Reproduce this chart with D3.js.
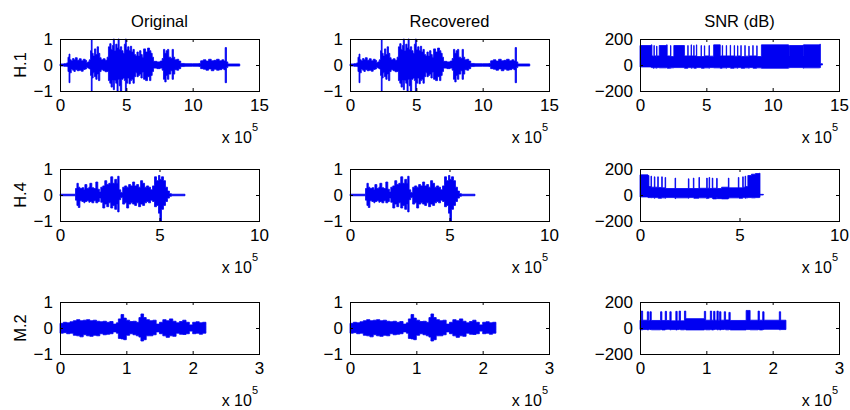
<!DOCTYPE html>
<html><head><meta charset="utf-8">
<script src="https://cdn.jsdelivr.net/npm/d3@7"></script>
<style>
body{margin:0;background:#fff;}
svg{display:block;font-family:"Liberation Sans",Arial,sans-serif;}
</style></head>
<body><svg id="c" width="850" height="410"></svg>
<script>
// ---------- DATA ----------
const colTitles = ["Original", "Recovered", "SNR (dB)"];
const rowLabels = ["H.1", "H.4", "M.2"];
const xMaxByRow = [15, 10, 3];            // x in units of 10^5 samples
const xTicksByRow = [[0, 5, 10, 15], [0, 5, 10], [0, 1, 2, 3]];
const sigTicks = [-1, 0, 1];
const snrTicks = [-200, 0, 200];

// H.1 waveform envelope (x: 10^5 samples)
const h1X  = [0,0.3,0.5,0.6,0.68,0.75,0.85,0.95,1.05,1.15,1.3,1.45,1.6,1.75,1.9,2.0,2.1,2.2,2.3,2.36,2.42,2.5,2.6,2.7,2.8,2.9,3.0,3.1,3.25,3.4,3.55,3.65,3.75,3.85,3.95,4.02,4.1,4.2,4.3,4.38,4.46,4.55,4.65,4.75,4.85,4.93,5.0,5.1,5.2,5.3,5.4,5.5,5.6,5.7,5.8,5.9,6.0,6.1,6.2,6.3,6.45,6.6,6.75,6.85,6.95,7.05,7.3,7.55,7.7,7.8,7.9,8.0,8.1,8.2,8.35,8.45,8.55,8.65,8.8,8.95,9.1,9.4,10.0,10.45,10.6,10.8,11.0,11.2,11.4,11.6,11.8,12.0,12.2,12.35,12.45,12.55,12.65,13.55];
const h1Hi = [.04,.05,.08,.30,.42,.20,.15,.25,.20,.28,.18,.24,.16,.22,.18,.10,.12,.20,.55,.96,.45,.35,.62,.40,.70,.45,.28,.20,.24,.18,.30,.70,.82,.60,.75,1.0,.55,.80,.65,1.0,.60,.70,.55,.45,.80,1.0,.60,.70,.55,.72,.50,.60,.40,.35,.50,.35,.55,.40,.30,.62,.50,.65,.55,.45,.30,.14,.12,.15,.25,.60,.45,.55,.60,.30,.25,.60,.30,.20,.22,.15,.06,.05,.05,.06,.16,.20,.15,.22,.16,.18,.22,.16,.20,.15,.67,.12,.04,.04];
const h1Lo = [-.04,-.05,-.06,-.25,-.68,-.30,-.15,-.20,-.25,-.18,-.22,-.20,-.24,-.17,-.15,-.10,-.12,-.15,-.40,-1.0,-.50,-.30,-.45,-.55,-.35,-.60,-.25,-.18,-.22,-.26,-.25,-.60,-.70,-.85,-.60,-.95,-.60,-.70,-1.0,-.55,-.80,-1.0,-.55,-.50,-.60,-1.0,-.70,-.50,-.72,-.60,-.55,-.70,-.45,-.30,-.45,-.40,-.35,-.50,-.28,-.55,-.60,-.45,-.60,-.40,-.25,-.12,-.14,-.12,-.20,-.55,-.65,-.40,-.55,-.35,-.22,-.55,-.35,-.18,-.20,-.14,-.06,-.05,-.05,-.06,-.14,-.16,-.20,-.15,-.22,-.16,-.20,-.18,-.14,-.18,-.68,-.10,-.04,-.04];

// H.4 waveform envelope
const h4X  = [0,0.7,0.78,0.85,0.92,1.0,1.1,1.2,1.25,1.35,1.45,1.5,1.6,1.7,1.8,1.9,1.98,2.05,2.15,2.25,2.35,2.45,2.55,2.65,2.75,2.85,2.9,2.97,3.05,3.15,3.25,3.35,3.45,3.55,3.65,3.75,3.85,3.95,4.05,4.15,4.25,4.35,4.45,4.55,4.65,4.75,4.85,4.95,5.02,5.1,5.2,5.3,5.4,5.5,5.6,6.28];
const h4Hi = [.03,.03,.25,.45,.30,.25,.28,.20,.40,.25,.30,.45,.28,.25,.50,.22,.12,.30,.35,.55,.40,.45,.70,.45,.60,.45,.72,.20,.10,.30,.35,.30,.40,.35,.50,.35,.40,.30,.55,.45,.30,.35,.30,.20,.35,.70,.55,.75,.60,.70,.55,.30,.15,.05,.03,.03];
const h4Lo = [-.03,-.03,-.20,-.40,-.48,-.22,-.25,-.30,-.25,-.22,-.28,-.25,-.30,-.22,-.30,-.25,-.12,-.28,-.50,-.35,-.45,-.30,-.50,-.40,-.55,-.35,-.65,-.18,-.10,-.35,-.30,-.50,-.35,-.30,-.35,-.40,-.30,-.45,-.35,-.40,-.30,-.25,-.30,-.20,-.25,-.45,-.40,-.70,-1.0,-.55,-.40,-.25,-.12,-.05,-.03,-.03];

// M.2 waveform envelope
const m2X  = [0,0.05,0.1,0.15,0.2,0.25,0.3,0.35,0.4,0.45,0.5,0.55,0.6,0.65,0.7,0.75,0.8,0.85,0.88,0.92,0.96,1.0,1.05,1.1,1.15,1.19,1.22,1.26,1.3,1.35,1.4,1.45,1.5,1.55,1.6,1.65,1.7,1.75,1.8,1.85,1.9,1.95,2.0,2.05,2.1,2.15,2.2];
const m2Hi = [.18,.22,.20,.24,.28,.32,.28,.30,.32,.28,.30,.26,.24,.26,.22,.25,.15,.20,.35,.52,.38,.30,.25,.26,.22,.40,.54,.40,.32,.28,.30,.15,.22,.32,.28,.35,.26,.20,.25,.30,.22,.12,.22,.24,.20,.22,.10];
const m2Lo = [-.20,-.18,-.22,-.20,-.28,-.30,-.34,-.26,-.30,-.32,-.28,-.30,-.22,-.26,-.24,-.22,-.15,-.20,-.40,-.42,-.45,-.28,-.22,-.26,-.30,-.35,-.50,-.45,-.30,-.30,-.26,-.15,-.22,-.30,-.36,-.30,-.32,-.20,-.24,-.25,-.22,-.12,-.22,-.20,-.24,-.20,-.10];

// SNR (dB) envelopes, step-wise
const s1X  = [0,0.85,0.9,1.0,1.05,1.08,1.2,1.25,1.28,1.45,2.0,2.05,2.25,2.3,2.33,2.55,3.35,3.6,3.63,3.85,3.88,4.05,4.08,4.25,4.28,4.6,4.63,4.85,4.88,5.2,5.23,5.55,6.05,6.2,6.23,6.5,6.53,6.8,6.83,7.1,7.13,7.35,7.38,7.6,7.63,7.9,7.93,8.2,8.23,8.5,8.53,8.8,8.83,9.15,11.2,11.25,11.28,12.3,12.33,12.36,13.55,13.6,13.75];
const s1Hi = [150,155,70,65,150,70,68,145,70,150,155,70,65,150,65,150,70,150,70,155,70,150,70,155,65,150,65,148,70,150,68,155,70,150,70,150,70,152,70,150,68,148,70,150,65,150,68,145,70,150,70,148,65,155,150,70,150,155,70,155,160,10,10];
const s1Lo = [-15,-20,-20,-25,-20,-22,-20,-25,-20,-22,-18,-25,-20,-25,-22,-20,-25,-22,-20,-25,-22,-20,-25,-18,-20,-22,-25,-20,-22,-25,-20,-22,-25,-20,-22,-25,-20,-22,-25,-20,-22,-25,-20,-22,-25,-20,-22,-25,-20,-22,-25,-20,-22,-25,-20,-22,-20,-25,-20,-22,-20,0,0];

const s4X  = [0,0.4,0.45,0.55,0.58,0.72,0.75,0.89,0.92,1.09,1.12,1.26,1.29,1.76,1.79,2.43,2.46,2.68,2.71,2.96,2.99,3.35,3.38,3.47,3.5,3.63,3.66,3.85,3.88,4.1,4.44,4.47,4.94,4.97,5.16,5.19,5.28,5.31,5.42,5.6,5.8,6.0,6.03,6.2];
const s4Hi = [155,150,65,145,60,140,60,140,58,140,55,135,50,130,50,125,50,130,50,135,52,130,52,135,50,130,52,128,50,60,130,55,135,55,140,60,145,65,150,160,165,168,5,5];
const s4Lo = [-15,-20,-20,-22,-20,-25,-20,-22,-25,-20,-22,-25,-20,-28,-22,-25,-20,-22,-25,-20,-22,-28,-25,-22,-20,-25,-30,-22,-28,-30,-25,-22,-20,-25,-22,-20,-25,-22,-20,-22,-20,-18,0,0];

const s2X  = [0,0.02,0.04,0.11,0.13,0.15,0.17,0.31,0.33,0.38,0.4,0.45,0.47,0.54,0.56,0.59,0.61,0.67,0.69,0.97,0.99,1.06,1.08,1.11,1.13,1.16,1.18,1.2,1.22,1.27,1.29,1.34,1.36,1.6,1.66,1.78,1.8,1.85,1.87,2.1,2.12,2.2];
const s2Hi = [60,130,60,125,58,125,58,125,58,128,58,125,55,128,55,130,55,130,72,128,60,130,60,128,60,130,60,125,60,125,62,120,58,135,60,130,60,125,60,125,60,60];
const s2Lo = [-12,-15,-12,-15,-10,-12,-14,-12,-15,-12,-10,-14,-12,-15,-12,-10,-14,-12,-15,-12,-14,-12,-15,-12,-10,-14,-12,-15,-12,-10,-14,-12,-15,-12,-14,-12,-15,-12,-10,-14,-12,-12];

// ---------- LAYOUT ----------
const colLeft = [60, 350, 640];
const rowTop = [39, 169, 302];
const pw = 199, ph = 52;
const blue = "#0000f2";

const svg = d3.select("#c");
svg.append("rect").attr("width", 850).attr("height", 410).attr("fill", "#fff");

const sig = [
  {x: h1X, hi: h1Hi, lo: h1Lo},
  {x: h4X, hi: h4Hi, lo: h4Lo},
  {x: m2X, hi: m2Hi, lo: m2Lo}
];
const snr = [
  {x: s1X, hi: s1Hi, lo: s1Lo},
  {x: s4X, hi: s4Hi, lo: s4Lo},
  {x: s2X, hi: s2Hi, lo: s2Lo}
];

function panel(r, c) {
  const g = svg.append("g").attr("transform", `translate(${colLeft[c]},${rowTop[r]})`);
  const isSnr = c === 2;
  const x = d3.scaleLinear().domain([0, xMaxByRow[r]]).range([0, pw]);
  const y = isSnr ? d3.scaleLinear().domain([-200, 200]).range([ph, 0])
                  : d3.scaleLinear().domain([-1, 1]).range([ph, 0]);
  const ser = isSnr ? snr[r] : sig[r];
  const pts = ser.x.map((v, i) => ({x: v, hi: ser.hi[i], lo: ser.lo[i]}));
  const area = d3.area()
    .x(d => x(d.x)).y0(d => y(d.lo)).y1(d => y(d.hi))
    .curve(d3.curveStepAfter);
  g.append("path").datum(pts).attr("d", area)
    .attr("fill", blue).attr("stroke", blue).attr("stroke-width", 0.8)
    .attr("stroke-linejoin", "miter");

  const yt = isSnr ? snrTicks : sigTicks;
  const xt = xTicksByRow[r];
  const fs = "17px";
  const ax = g.append("g").attr("transform", `translate(0,${ph})`)
    .call(d3.axisBottom(x).tickValues(xt).tickSizeInner(-3).tickSizeOuter(0).tickPadding(8).tickFormat(d3.format("d")));
  const ay = g.append("g")
    .call(d3.axisLeft(y).tickValues(yt).tickSizeInner(-3).tickSizeOuter(0).tickPadding(7).tickFormat(d3.format("d")));
  const at = g.append("g").call(d3.axisTop(x).tickValues(xt).tickSizeInner(-3).tickSizeOuter(0).tickFormat(""));
  const ar = g.append("g").attr("transform", `translate(${pw},0)`)
    .call(d3.axisRight(y).tickValues(yt).tickSizeInner(-3).tickSizeOuter(0).tickFormat(""));
  [ax, ay, at, ar].forEach(a => {
    a.select(".domain").remove();
    a.selectAll("line").attr("stroke", "#000");
    a.selectAll("text").attr("font-size", fs).attr("fill", "#000")
      .attr("font-family", '"Liberation Sans", Arial, sans-serif');
  });
  g.append("rect").attr("x", 0).attr("y", 0).attr("width", pw).attr("height", ph)
    .attr("fill", "none").attr("stroke", "#000").attr("stroke-width", 1)
    .attr("shape-rendering", "crispEdges");

  const t = g.append("text").attr("x", pw - 1).attr("y", ph + 52)
    .attr("text-anchor", "end").attr("font-size", "16px").attr("fill", "#000");
  t.append("tspan").text("x 10");
  t.append("tspan").attr("dy", -12).attr("font-size", "11px").text("5");

  if (r === 0) {
    g.append("text").attr("x", pw / 2).attr("y", -12).attr("text-anchor", "middle")
      .attr("font-size", "16.5px").attr("fill", "#000").text(colTitles[c]);
  }
  if (c === 0) {
    g.append("text").attr("transform", `translate(${-34},${ph / 2}) rotate(-90)`)
      .attr("text-anchor", "middle").attr("font-size", "16.5px").attr("fill", "#000")
      .text(rowLabels[r]);
  }
}

for (let r = 0; r < 3; r++) for (let c = 0; c < 3; c++) panel(r, c);
</script>
</body></html>
